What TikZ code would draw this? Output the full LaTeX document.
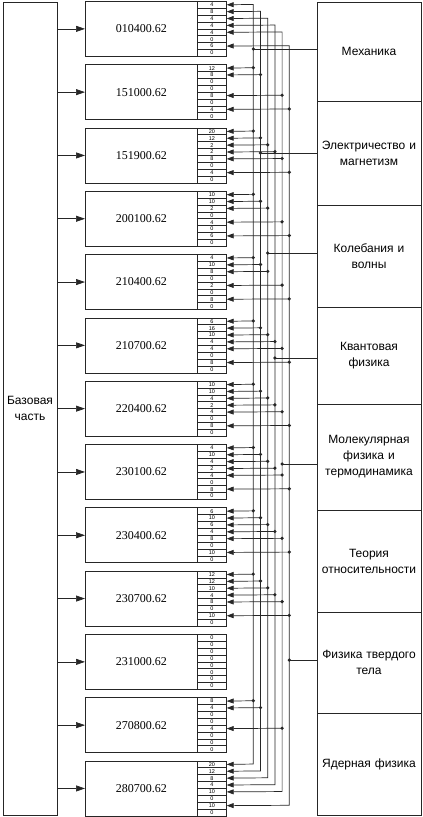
\documentclass[tikz,border=0pt]{standalone}
\usepackage{fontspec}
\setmainfont{Liberation Serif}
\setsansfont{Liberation Sans}
\usetikzlibrary{positioning}
\usetikzlibrary{arrows.meta}

\tikzset{
  >={Triangle[length=7pt,width=5pt]},
  line/.style={draw=black!85, line width=0.7pt},
  feed/.style={line, -{Triangle[length=9pt,width=6pt]}},
  basebox/.style={line, minimum width=54pt, minimum height=813pt, inner sep=0pt, align=center, font=\sffamily\fontsize{12}{16}\selectfont},
  prog/.style={line, minimum width=112pt, minimum height=55pt, inner sep=0pt, font=\fontsize{12}{14}\selectfont},
  cell/.style={line, minimum width=29pt, minimum height=6.875pt, inner sep=0pt, font=\sffamily\fontsize{5.5}{5.5}\selectfont},
  disc/.style={line, minimum width=104pt, text width=100pt, inner sep=0pt, align=center, font=\sffamily\fontsize{12}{16}\selectfont},
  jdot/.style={circle, fill=black!85, inner sep=0pt, minimum size=3.6pt}
}

\begin{document}
\begin{tikzpicture}[x=1pt,y=-1pt]
\useasboundingbox (0,0) rectangle (423,817);

%base part
\node[basebox] (base) at (30,408.5) {Базовая\\часть};

%programmes and their cells
\foreach \code/\vals [count=\b] in {
  010400.62/{4,8,4,4,4,0,6,0},
  151000.62/{12,8,0,0,8,0,4,0},
  151900.62/{20,12,2,2,8,0,4,0},
  200100.62/{10,10,2,0,4,0,6,0},
  210400.62/{4,10,8,0,2,0,8,0},
  210700.62/{6,16,10,4,4,0,8,0},
  220400.62/{10,10,4,2,4,0,8,0},
  230100.62/{4,10,4,2,4,0,8,0},
  230400.62/{6,10,6,4,8,0,10,0},
  230700.62/{12,12,10,4,8,0,10,0},
  231000.62/{0,0,0,0,0,0,0,0},
  270800.62/{8,4,0,0,4,0,0,0},
  280700.62/{20,12,8,4,10,0,10,0}}{
  \pgfmathsetmacro\ptop{1+(\b-1)*63.3}
  \node[prog, anchor=north west] (p\b) at (85,\ptop) {\code};
  \draw[feed] (base.east |- p\b.west) -- (p\b.west);
  \foreach \v [count=\c] in \vals {
    \node[cell, anchor=north west] (c\b-\c) at (197,{\ptop+(\c-1)*6.875}) {\v};
    \ifnum\c=6 \else\ifnum\c=8 \else
      \pgfmathtruncatemacro\k{min(\c,6)}
      \pgfmathsetmacro\cy{\ptop+(\c-0.5)*6.875}
      \coordinate (j\b-\k) at ({253.3+(\k-1)*7.2},\cy);
      \ifnum\b>1 \ifnum\b<13 \ifnum\v>0
        \draw[line,->] (j\b-\k) -- (c\b-\c.east);
        \node[jdot] (dj\b-\k) at (j\b-\k) {};
      \fi\fi\fi
    \fi\fi
  }
}

%vertical buses
\foreach \k/\c in {1/1,2/2,3/3,4/4,5/5,6/7}
  \draw[line,<->] (c1-\c.east) -- (j1-\k) -- (j13-\k) -- (c13-\c.east);

%disciplines
\node[disc, minimum height=99pt] (mech) at (369,51.5) {Механика};
\node[disc, minimum height=104pt] (elec) at (369,153) {Электричество и\\магнетизм};
\node[disc, minimum height=102pt] (osc) at (369,256) {Колебания и\\волны};
\node[disc, minimum height=97pt] (quant) at (369,355.5) {Квантовая\\физика};
\node[disc, minimum height=106pt] (mol) at (369,457) {Молекулярная\\физика и\\термодинамика};
\node[disc, minimum height=102pt] (rel) at (369,561) {Теория\\относительности};
\node[disc, minimum height=101pt] (solid) at (369,662.5) {Физика твердого\\тела};
\node[disc, minimum height=102pt] (nucl) at (369,764) {Ядерная физика};

%taps of the disciplines on the buses
\foreach \d/\k/\y in {mech/1/49, elec/2/153, osc/3/253, quant/4/358, mol/5/464, solid/6/660}{
  \coordinate (t\k) at ({253.3+(\k-1)*7.2},\y);
  \draw[line] (\d.west |- t\k) -- (t\k);
  \node[jdot] (dt\k) at (t\k) {};
}

\end{tikzpicture}
\end{document}
